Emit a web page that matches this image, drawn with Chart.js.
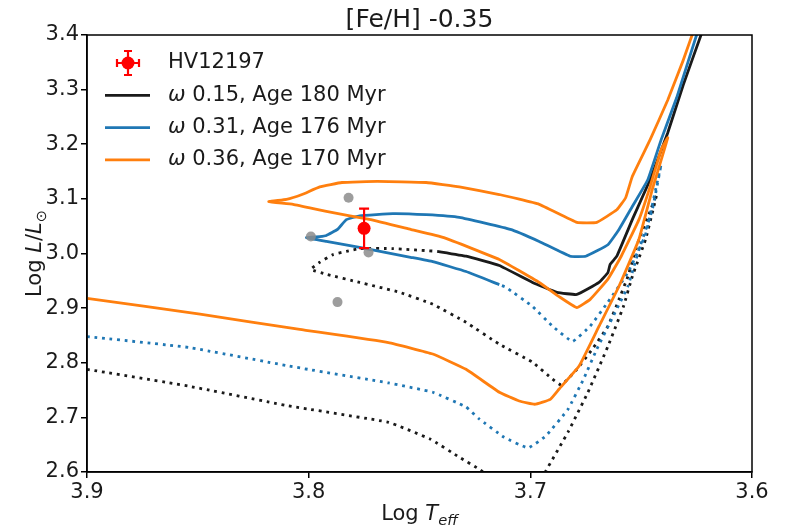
<!DOCTYPE html>
<html>
<head>
<meta charset="utf-8">
<script src="https://cdn.jsdelivr.net/npm/chart.js@4.4.0/dist/chart.umd.min.js"></script>
<style>
    html, body { margin: 0; padding: 0; background: #fff; }
    #wrap { width: 787px; height: 531px; }
</style>
</head>
<body>
<div id="wrap"><canvas id="hr-chart" width="787" height="531"></canvas></div>
<script>
/* -------- DATA START -------- */
const chartTitle = "[Fe/H] -0.35";
const xTicks = [3.9, 3.8, 3.7, 3.6];
const yTicks = [2.6, 2.7, 2.8, 2.9, 3.0, 3.1, 3.2, 3.3, 3.4];

// observed star with error bars
const hvT = [3.775];
const hvL = [3.046];
const hvErrT = [0.0015];
const hvErrL = [0.036];

// grey points
const greyT = [3.782, 3.799, 3.773, 3.787];
const greyL = [3.102, 3.031, 3.002, 2.911];

// omega 0.15 isochrone (dotted part, then solid part)
const blackDottedT = [3.900, 3.854, 3.809, 3.764, 3.745, 3.732, 3.723, 3.715, 3.705, 3.695, 3.693, 3.683, 3.674, 3.665, 3.658, 3.654, 3.648, 3.643,
    3.646, 3.651, 3.656, 3.660, 3.665, 3.672, 3.679, 3.686, 3.690, 3.699, 3.714, 3.729, 3.744, 3.759, 3.777, 3.792, 3.799,
    3.795, 3.789, 3.783, 3.777, 3.762, 3.742];
const blackDottedL = [2.788, 2.757, 2.721, 2.691, 2.660, 2.627, 2.605, 2.580, 2.570, 2.585, 2.602, 2.673, 2.746, 2.830, 2.903, 2.958, 3.026, 3.108,
    3.077, 3.026, 2.958, 2.916, 2.867, 2.825, 2.788, 2.759, 2.770, 2.801, 2.834, 2.874, 2.907, 2.929, 2.947, 2.962, 2.971,
    2.984, 2.998, 3.004, 3.009, 3.009, 3.004];
const blackSolidT = [3.742, 3.729, 3.714, 3.699, 3.688, 3.679, 3.669, 3.665, 3.664, 3.661, 3.654, 3.646, 3.638, 3.631, 3.623, 3.621];
const blackSolidL = [3.004, 2.995, 2.978, 2.947, 2.929, 2.925, 2.947, 2.965, 2.980, 2.995, 3.062, 3.135, 3.221, 3.309, 3.400, 3.427];

// omega 0.31 isochrone
const blueDottedT = [3.900, 3.854, 3.809, 3.764, 3.744, 3.729, 3.723, 3.712, 3.701, 3.693, 3.683, 3.676, 3.670, 3.664, 3.656, 3.651, 3.645, 3.641,
    3.643, 3.648, 3.656, 3.665, 3.673, 3.681, 3.690, 3.699, 3.711, 3.714];
const blueDottedL = [2.848, 2.828, 2.794, 2.763, 2.746, 2.719, 2.697, 2.664, 2.644, 2.666, 2.715, 2.770, 2.825, 2.874, 2.940, 3.007, 3.080, 3.163,
    3.126, 3.035, 2.965, 2.911, 2.867, 2.839, 2.867, 2.903, 2.938, 2.943];
const blueSolidT = [3.714, 3.729, 3.744, 3.754, 3.777, 3.792, 3.801, 3.795, 3.792, 3.787, 3.783, 3.777, 3.762, 3.747, 3.732, 3.709,
    3.696, 3.682, 3.675, 3.665, 3.660, 3.654, 3.647, 3.641, 3.634, 3.625, 3.622];
const blueSolidL = [2.943, 2.967, 2.985, 2.993, 3.011, 3.022, 3.029, 3.031, 3.033, 3.044, 3.062, 3.069, 3.073, 3.071, 3.066, 3.044,
    3.022, 2.995, 2.995, 3.016, 3.044, 3.086, 3.135, 3.208, 3.285, 3.400, 3.431];

// omega 0.36 isochrone (all solid)
const orangeT = [3.900, 3.849, 3.804, 3.764, 3.744, 3.729, 3.714, 3.705, 3.698, 3.691, 3.687, 3.678, 3.669, 3.660, 3.651, 3.645, 3.638,
    3.641, 3.646, 3.651, 3.659, 3.665, 3.673, 3.679, 3.687, 3.696, 3.714, 3.739, 3.754, 3.772, 3.792, 3.807, 3.818,
    3.810, 3.803, 3.795, 3.785, 3.769, 3.747, 3.732, 3.714, 3.696, 3.679, 3.670, 3.661, 3.657, 3.654, 3.646, 3.638, 3.631, 3.627, 3.623];
const orangeL = [2.918, 2.889, 2.861, 2.837, 2.816, 2.788, 2.746, 2.730, 2.724, 2.733, 2.752, 2.794, 2.867, 2.940, 3.026, 3.117, 3.212,
    3.190, 3.122, 3.062, 2.995, 2.953, 2.916, 2.901, 2.921, 2.947, 2.989, 3.029, 3.044, 3.062, 3.077, 3.090, 3.095,
    3.099, 3.108, 3.122, 3.130, 3.132, 3.130, 3.122, 3.108, 3.090, 3.057, 3.057, 3.080, 3.102, 3.141, 3.208, 3.281, 3.354, 3.400, 3.437];

const legendLabels = ["HV12197", "ω 0.15, Age 180 Myr", "ω 0.31, Age 176 Myr", "ω 0.36, Age 170 Myr"];
/* -------- DATA END -------- */

/* -------- GLOBAL VARIABLES START -------- */
const FONT = "'DejaVu Sans', sans-serif";
const BLACK = "#1a1a1a";
const BLUE = "#1f77b4";
const ORANGE = "#ff7f0e";
const RED = "#ff0000";
const LW = 2.8;
const DOTS = [2.8, 4.8];
/* -------- GLOBAL VARIABLES END -------- */

/* -------- FUNCTIONS START -------- */
function toPoints(xs, ys) {
    return xs.map((x, i) => ({ x: x, y: ys[i] }));
}

function lineSet(xs, ys, color, dotted) {
    return {
        type: "line",
        data: toPoints(xs, ys),
        borderColor: color,
        borderWidth: LW,
        borderDash: dotted ? DOTS : [],
        pointRadius: 0,
        tension: 0.1,
        fill: false,
    };
}

// draw text pieces one after the other (normal / italic / subscript)
function drawRuns(ctx, runs, size) {
    let total = 0;
    runs.forEach(r => {
        const s = r.sub ? size * 0.7 : size;
        ctx.font = (r.italic ? "italic " : "") + s + "px " + FONT;
        r.w = ctx.measureText(r.text).width;
        total += r.w;
    });
    let x = -total / 2;
    runs.forEach(r => {
        const s = r.sub ? size * 0.7 : size;
        ctx.font = (r.italic ? "italic " : "") + s + "px " + FONT;
        ctx.fillText(r.text, x, r.sub ? size * 0.25 : 0);
        x += r.w;
    });
}

function errorCaps(ctx, x1, y1, x2, y2, cap) {
    ctx.beginPath();
    ctx.moveTo(x1, y1);
    ctx.lineTo(x2, y2);
    if (x1 === x2) {
        ctx.moveTo(x1 - cap, y1); ctx.lineTo(x1 + cap, y1);
        ctx.moveTo(x2 - cap, y2); ctx.lineTo(x2 + cap, y2);
    } else {
        ctx.moveTo(x1, y1 - cap); ctx.lineTo(x1, y1 + cap);
        ctx.moveTo(x2, y2 - cap); ctx.lineTo(x2, y2 + cap);
    }
    ctx.stroke();
}
/* -------- FUNCTIONS END -------- */

/* -------- PLUGINS START -------- */
const errorBarPlugin = {
    id: "errorBars",
    afterDatasetsDraw(chart) {
        const ctx = chart.ctx;
        const xs = chart.scales.x, ys = chart.scales.y;
        ctx.save();
        ctx.strokeStyle = RED;
        ctx.lineWidth = 2.2;
        hvT.forEach((t, i) => {
            const px = xs.getPixelForValue(t);
            const py = ys.getPixelForValue(hvL[i]);
            errorCaps(ctx, px, ys.getPixelForValue(hvL[i] + hvErrL[i]), px, ys.getPixelForValue(hvL[i] - hvErrL[i]), 5);
            errorCaps(ctx, xs.getPixelForValue(t + hvErrT[i]), py, xs.getPixelForValue(t - hvErrT[i]), py, 4);
        });
        ctx.restore();
    }
};

const decorPlugin = {
    id: "decor",
    afterDraw(chart) {
        const ctx = chart.ctx;
        const a = chart.chartArea;
        ctx.save();
        // frame
        ctx.strokeStyle = "#000";
        ctx.lineWidth = 1.5;
        ctx.strokeRect(a.left, a.top, a.right - a.left, a.bottom - a.top);

        ctx.fillStyle = "#1a1a1a";
        ctx.textBaseline = "alphabetic";
        const cx = (a.left + a.right) / 2;

        // title
        ctx.save();
        ctx.translate(cx, 27);
        drawRuns(ctx, [{ text: chartTitle }], 25);
        ctx.restore();

        // x title
        ctx.save();
        ctx.translate(cx, 520);
        drawRuns(ctx, [{ text: "Log " }, { text: "T", italic: true }, { text: "eff", italic: true, sub: true }], 21);
        ctx.restore();

        // y title
        ctx.save();
        ctx.translate(41, (a.top + a.bottom) / 2);
        ctx.rotate(-Math.PI / 2);
        drawRuns(ctx, [{ text: "Log " }, { text: "L", italic: true }, { text: "/" }, { text: "L", italic: true }, { text: "⊙", sub: true }], 21);
        ctx.restore();

        // legend, inside the upper left corner
        const colors = [RED, BLACK, BLUE, ORANGE];
        const lx = a.left + 18, tx = a.left + 81;
        ctx.font = "21px " + FONT;
        ctx.textBaseline = "middle";
        legendLabels.forEach((label, i) => {
            const ly = a.top + 28 + i * 32.3;
            if (i === 0) {
                const mx = lx + 23;
                ctx.strokeStyle = RED;
                ctx.fillStyle = RED;
                ctx.lineWidth = 2.2;
                errorCaps(ctx, mx, ly - 12, mx, ly + 12, 4);
                errorCaps(ctx, mx - 11, ly, mx + 11, ly, 4);
                ctx.beginPath();
                ctx.arc(mx, ly, 6.5, 0, Math.PI * 2);
                ctx.fill();
            } else {
                ctx.strokeStyle = colors[i];
                ctx.lineWidth = LW;
                ctx.beginPath();
                ctx.moveTo(lx, ly);
                ctx.lineTo(lx + 45, ly);
                ctx.stroke();
            }
            ctx.fillStyle = "#1a1a1a";
            if (label.startsWith("ω")) {
                ctx.font = "italic 21px " + FONT;
                ctx.fillText("ω", tx, ly);
                const w = ctx.measureText("ω").width;
                ctx.font = "21px " + FONT;
                ctx.fillText(label.slice(1), tx + w, ly);
            } else {
                ctx.font = "21px " + FONT;
                ctx.fillText(label, tx, ly);
            }
        });
        ctx.restore();
    }
};
/* -------- PLUGINS END -------- */

/* -------- PROGRAM START -------- */
document.addEventListener("DOMContentLoaded", () => {
    const ctx = document.getElementById("hr-chart").getContext("2d");
    const tickFont = { family: FONT, size: 21 };

    new Chart(ctx, {
        type: "scatter",
        data: {
            datasets: [
                { type: "scatter", data: toPoints(hvT, hvL), backgroundColor: RED, borderWidth: 0, pointRadius: 6.5 },
                { type: "scatter", data: toPoints(greyT, greyL), backgroundColor: "rgba(140,140,140,0.85)", borderWidth: 0, pointRadius: 5 },
                lineSet(orangeT, orangeL, ORANGE, false),
                lineSet(blueSolidT, blueSolidL, BLUE, false),
                lineSet(blueDottedT, blueDottedL, BLUE, true),
                lineSet(blackSolidT, blackSolidL, BLACK, false),
                lineSet(blackDottedT, blackDottedL, BLACK, true),
            ]
        },
        options: {
            responsive: false,
            animation: false,
            events: [],
            layout: { padding: { left: 0, right: 35, top: 35, bottom: 0 } },
            plugins: { legend: { display: false }, tooltip: { enabled: false }, title: { display: false } },
            scales: {
                x: {
                    type: "linear",
                    reverse: true,
                    min: 3.6,
                    max: 3.9,
                    afterBuildTicks: (axis) => { axis.ticks = xTicks.map(v => ({ value: v })); },
                    afterFit: (axis) => { axis.height = 59; },
                    ticks: { font: tickFont, color: "#1a1a1a", padding: 2, maxRotation: 0, callback: v => v.toFixed(1) },
                    grid: { drawOnChartArea: false, drawTicks: true, tickLength: 6, color: "#000", lineWidth: 1.5 },
                    border: { display: true, color: "#000", width: 1.5 },
                },
                y: {
                    type: "linear",
                    min: 2.6,
                    max: 3.4,
                    afterBuildTicks: (axis) => { axis.ticks = yTicks.map(v => ({ value: v })); },
                    afterFit: (axis) => { axis.width = 87; },
                    ticks: { font: tickFont, color: "#1a1a1a", padding: 2, callback: v => v.toFixed(1) },
                    grid: { drawOnChartArea: false, drawTicks: true, tickLength: 6, color: "#000", lineWidth: 1.5 },
                    border: { display: true, color: "#000", width: 1.5 },
                }
            }
        },
        plugins: [errorBarPlugin, decorPlugin]
    });
});
/* -------- PROGRAM END -------- */
</script>
</body>
</html>
